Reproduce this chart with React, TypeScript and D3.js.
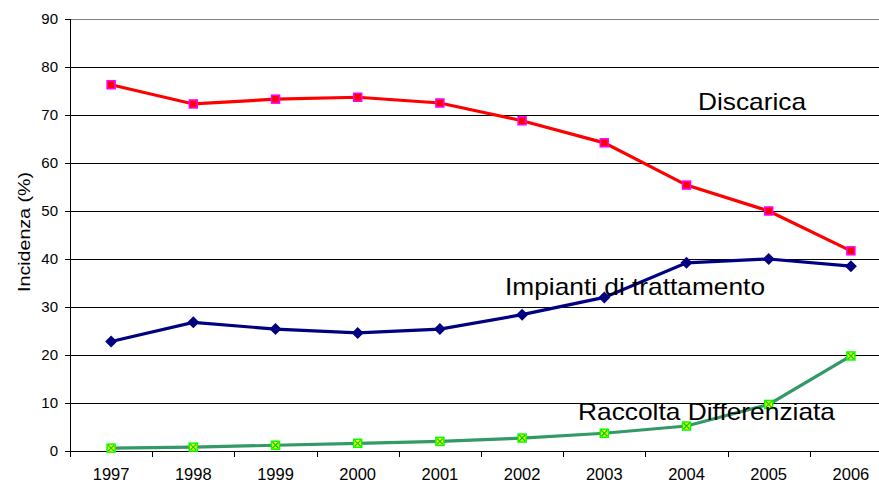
import React from "react";
import * as d3 from "d3";

const years = ["1997","1998","1999","2000","2001","2002","2003","2004","2005","2006"];
const discarica = [76.3, 72.3, 73.3, 73.7, 72.5, 68.8, 64.2, 55.4, 50.0, 41.7];
const impianti = [22.8, 26.8, 25.4, 24.6, 25.4, 28.4, 32.0, 39.2, 40.0, 38.5];
const raccolta = [0.6, 0.8, 1.2, 1.6, 2.0, 2.7, 3.7, 5.2, 9.7, 19.8];
const yTicks = [0, 10, 20, 30, 40, 50, 60, 70, 80, 90];

const W = 879, H = 483;
const left = 70, right = 892, top = 19, bottom = 451;
const FONT = "'Liberation Sans', Arial, sans-serif";

export default function App() {
  const x = d3.scaleBand<string>().domain(years).range([left, right]);
  const y = d3.scaleLinear().domain([0, 90]).range([bottom, top]);
  const cx = (i: number) => (x(years[i]) as number) + x.bandwidth() / 2;
  const line = d3.line<number>().x((_, i) => cx(i)).y((d) => y(d));
  const bounds = [...years.map((yr) => x(yr) as number), right];
  const crisp = (v: number) => Math.round(v) + 0.5;

  return (
    <svg width={W} height={H} style={{ position: "absolute", left: 0, top: 0, background: "#fff" }} fontFamily={FONT}>
      {yTicks.map((t) => (
        <g key={t}>
          <line x1={left} x2={right} y1={crisp(y(t))} y2={crisp(y(t))} stroke={t === 90 ? "#808080" : "#000"} strokeWidth={1} />
          <line x1={left - 5} x2={left} y1={crisp(y(t))} y2={crisp(y(t))} stroke="#000" />
          <text x={left - 12} y={y(t)} dy="0.36em" textAnchor="end" fontSize={15} fill="#000">{t}</text>
        </g>
      ))}
      <line x1={crisp(left)} x2={crisp(left)} y1={top} y2={bottom + 6} stroke="#000" />
      {bounds.map((b, i) => (
        <line key={i} x1={crisp(b)} x2={crisp(b)} y1={bottom} y2={bottom + 6} stroke="#000" />
      ))}
      {years.map((yr, i) => (
        <text key={yr} x={cx(i)} y={bottom + 29} textAnchor="middle" fontSize={16.5} fill="#000">{yr}</text>
      ))}
      <text transform={`translate(30,232) rotate(-90)`} textAnchor="middle" fontSize={16} textLength={120} lengthAdjust="spacingAndGlyphs" fill="#000">Incidenza (%)</text>

      <path d={line(raccolta) as string} fill="none" stroke="#339966" strokeWidth={3.2} />
      {raccolta.map((v, i) => (
        <g key={i} transform={`translate(${cx(i)},${y(v)})`}>
          <rect x={-4} y={-4} width={8} height={8} fill="#ffff00" stroke="#00ff00" strokeWidth={1.5} />
          <path d="M-3,-3L3,3M-3,3L3,-3" stroke="#00cc00" strokeWidth={1.2} />
        </g>
      ))}

      <path d={line(impianti) as string} fill="none" stroke="#000080" strokeWidth={3.2} />
      {impianti.map((v, i) => (
        <path key={i} transform={`translate(${cx(i)},${y(v)})`} d="M0,-6L6,0L0,6L-6,0Z" fill="#000080" />
      ))}

      <path d={line(discarica) as string} fill="none" stroke="#ff0000" strokeWidth={3.2} />
      {discarica.map((v, i) => (
        <rect key={i} x={cx(i) - 4} y={y(v) - 4} width={8} height={8} fill="#ff0000" stroke="#ff00ff" strokeWidth={1.5} />
      ))}

      <text x={698} y={110} fontSize={24} textLength={108} lengthAdjust="spacingAndGlyphs" fill="#000">Discarica</text>
      <text x={505} y={295} fontSize={24} textLength={260} lengthAdjust="spacingAndGlyphs" fill="#000">Impianti di trattamento</text>
      <text x={578} y={420} fontSize={24} textLength={257} lengthAdjust="spacingAndGlyphs" fill="#000">Raccolta Differenziata</text>
    </svg>
  );
}
